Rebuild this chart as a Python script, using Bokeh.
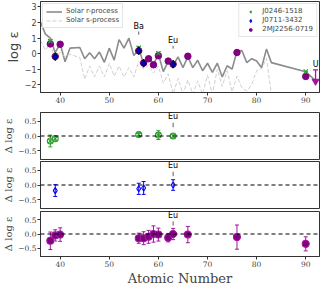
from bokeh.plotting import figure
from bokeh.layouts import column
from bokeh.models import (ColumnDataSource, Whisker, TeeHead, Span, Legend, LegendItem,
                          FixedTicker, Range1d)
from bokeh.embed import file_html
from bokeh.resources import INLINE
from bokeh.core.properties import value

NAN = float("nan")

# ---------------- data ----------------
r_z = [36, 37, 38, 39, 40, 41, 42, 44, 45, 46, 47, 48, 49, 50, 51, 52, 53, 54, 55, 56, 57, 58,
       59, 60, 61, 62, 63, 64, 65, 66, 67, 68, 69, 70, 71, 72, 73, 74, 75, 76, 77, 78, 79, 80,
       81, 82, 83, 90, 92]
r_val = [2.03, 1.25, 1.0, 0.06, 0.64, -0.52, 0.35, 0.39, -0.33, 0.06, -0.33, 0.1, -0.56, 0.35,
         -0.42, 0.9, 0.35, 0.99, -0.13, 0.29, -0.62, -0.23, -0.71, -0.04, -1.16, -0.49, -0.75,
         -0.21, -0.9, -0.2, -0.9, -0.43, -1.1, -0.62, -1.2, -0.62, -1.5, -0.78, -1.0, 0.16, 0.2,
         -0.58, -0.33, -0.48, -0.91, 0.29, -0.58, -1.16, -1.75]

s_z = [36, 37, 38, 39, 40, 41, 42, 44, 45, 46, 47, 48, 49, 50, 51, 52, 53, 54, 55, 56, 57, 58,
       59, 60, 61, 62, 63, 64, 65, 66, 67, 68, 69, 70, 71, 72, 73, 74, 75, 76, 77, 78, 79, 80,
       81, 82, 83]
s_val = [0.83, 0.22, 0.62, -0.4, 0.1, -0.2, -0.05, -0.25, -1.65, -0.8, -1.5, -0.8, -1.5, -0.62,
         -1.45, -0.8, -1.5, -0.9, -1.5, -0.5, -1.0, -0.75, -1.25, -0.8, -1.9, -1.3, -2.6, -1.6,
         -2.6, -1.7, -2.6, -1.75, -2.6, -1.4, -2.6, -1.0, -2.1, -1.1, -2.45, -1.45, -2.2, -2.4,
         -2.0, -1.1, -1.0, -0.3, -2.6]

# J0246-1518 (green)
g_z = [38, 39, 56, 60, 63, 90]
g_top = [0.80, -0.15, 0.38, 0.02, -0.68, -1.15]
g_top_err = [0.08, 0.06, 0.07, 0.08, 0.06, 0.0]
g_res_z = [38, 39, 56, 60, 63]
g_res = [-0.17, -0.09, 0.05, 0.03, 0.0]
g_res_err = [0.2, 0.09, 0.08, 0.15, 0.07]

# J0711-3432 (blue)
b_z = [39, 56, 57, 63]
b_top = [-0.2, 0.18, -0.62, -0.68]
b_top_err = [0.1, 0.1, 0.1, 0.1]
b_res_z = [39, 56, 57, 63]
b_res = [-0.19, -0.13, -0.10, 0.0]
b_res_err = [0.2, 0.19, 0.22, 0.18]

# 2MJ2256-0719 (purple)
p_z = [38, 39, 40, 56, 57, 58, 59, 60, 62, 63, 66, 76, 90]
p_top = [0.62, -0.18, 0.6, 0.18, -0.6, -0.33, -0.72, -0.14, -0.48, -0.68, -0.17, 0.07, -1.47]
p_top_err = [0.12, 0.1, 0.08, 0.08, 0.1, 0.1, 0.08, 0.1, 0.08, 0.08, 0.15, 0.08, 0.1]
p_res_z = [38, 39, 40, 56, 57, 58, 59, 60, 62, 63, 66, 76, 90]
p_res = [-0.24, -0.05, -0.02, -0.15, -0.15, -0.10, 0.0, -0.02, -0.13, 0.0, -0.02, -0.11, -0.35]
p_res_err = [0.31, 0.2, 0.24, 0.18, 0.23, 0.23, 0.29, 0.23, 0.15, 0.2, 0.29, 0.43, 0.25]

# U upper limit
u_z = [92]
u_val = [-1.78]
u_bar_top = [-1.05]

# labels
top_label_z = [56, 63]
top_label_txt = ["Ba", "Eu"]
top_label_y = [1.45, 0.55]
top_tick_lo = [1.22, 0.32]
top_tick_hi = [1.42, 0.5]
res_label_z = [63]
res_label_txt = ["Eu"]

x_ticks = [40, 50, 60, 70, 80, 90]
top_y_ticks = [-2, -1, 0, 1, 2, 3]
top_y_labels = ["\u22122", "\u22121", "0", "1", "2", "3"]
res_y_ticks = [-0.5, 0.0, 0.5]
res_y_labels = ["\u22120.5", "0.0", "0.5"]

GREEN = "#2ca02c"
BLUE = "#0000ff"
PURPLE = "#800080"
MAGENTA = "#a0179e"

SERIF = "DejaVu Serif"
SANS = "DejaVu Sans"

W = 320
LEFT = 36
xr = Range1d(36, 92.8)


def style(p, serif_y=True):
    p.xgrid.visible = False
    p.ygrid.visible = False
    p.outline_line_color = "#333333"
    p.outline_line_width = 1
    p.background_fill_color = "white"
    p.border_fill_color = "white"
    for ax in p.xaxis + p.yaxis:
        ax.axis_line_color = "#333333"
        ax.major_tick_out = 3
        ax.major_tick_in = 0
        ax.minor_tick_out = 0
        ax.minor_tick_in = 0
        ax.major_tick_line_color = "#333333"
        ax.major_label_text_font_size = "7.5px"
        ax.major_label_standoff = 1
        ax.axis_label_standoff = 1
    p.xaxis.ticker = FixedTicker(ticks=x_ticks)
    p.xaxis.major_label_text_font = SERIF
    p.yaxis.major_label_text_font = SERIF if serif_y else SANS


def whisk(p, xs, ys, errs, color, head=4, width=1.0):
    src = ColumnDataSource(dict(base=xs,
                                lower=[y - e for y, e in zip(ys, errs)],
                                upper=[y + e for y, e in zip(ys, errs)]))
    w = Whisker(source=src, base="base", lower="lower", upper="upper",
                line_color=color, line_width=width,
                upper_head=TeeHead(size=head, line_color=color, line_width=width),
                lower_head=TeeHead(size=head, line_color=color, line_width=width))
    p.add_layout(w)


# ---------------- top panel ----------------
p1 = figure(width=W, height=111, x_range=xr, y_range=Range1d(-2.5, 3.35),
            output_backend="svg", toolbar_location=None,
            min_border_left=LEFT, min_border_right=1, min_border_top=1, min_border_bottom=19)
style(p1, serif_y=False)
p1.yaxis.ticker = FixedTicker(ticks=top_y_ticks)
p1.yaxis.major_label_overrides = dict(zip(top_y_ticks, top_y_labels))
p1.yaxis.major_label_text_font_size = "8px"
p1.yaxis.axis_label = "log \u03b5"
p1.yaxis.axis_label_text_font = SANS
p1.yaxis.axis_label_text_font_style = "normal"
p1.yaxis.axis_label_text_font_size = "13px"

rl = p1.line(r_z, r_val, line_color="#8c8c8c", line_width=1.6)
sl = p1.line(s_z, s_val, line_color="#cfcfcf", line_width=1.0, line_dash="4 2")

whisk(p1, g_z, g_top, g_top_err, GREEN, head=4)
whisk(p1, p_z, p_top, p_top_err, MAGENTA, head=4)
whisk(p1, b_z, b_top, b_top_err, "black", head=3)

p1.scatter(p_z, p_top, marker="circle", size=6.5, fill_color=PURPLE, line_color=PURPLE)
p1.scatter(g_z, g_top, marker="x", size=6, line_color=GREEN, line_width=1.2)
p1.scatter(b_z, b_top, marker="diamond", size=8, fill_color="#0000cc", line_color="black",
           line_width=0.8)

# U upper limit
src_u = ColumnDataSource(dict(x=u_z, lo=u_val, hi=u_bar_top))
p1.segment(x0="x", y0="lo", x1="x", y1="hi", source=src_u, line_color=MAGENTA, line_width=1.3)
p1.scatter(x=u_z, y=u_bar_top, marker="dash", size=5, line_color=MAGENTA, line_width=1.3)
p1.scatter(x=u_z, y=u_val, marker="inverted_triangle", size=7, fill_color=MAGENTA,
           line_color=MAGENTA)
p1.text(x=u_z, y=u_bar_top, text=["U"], text_font=value(SANS), text_font_size=value("8px"),
        text_align="center", text_baseline="bottom", y_offset=-1, text_color="black")

# Ba / Eu labels
src_lab = ColumnDataSource(dict(x=top_label_z, y=top_label_y, t=top_label_txt,
                                lo=top_tick_lo, hi=top_tick_hi))
p1.text(x="x", y="y", text="t", source=src_lab, text_font=value(SANS),
        text_font_size=value("8px"), text_align="center", text_baseline="bottom")
p1.segment(x0="x", y0="lo", x1="x", y1="hi", source=src_lab, line_color="#333333",
           line_width=0.8)

# legend-only renderers (not drawn: NaN position)
lg_g = p1.scatter(x=[NAN], y=[NAN], marker="x", size=6, line_color=GREEN, line_width=1.2)
lg_b = p1.scatter(x=[NAN], y=[NAN], marker="diamond", size=8, fill_color=None,
                  line_color=BLUE, line_width=1.2)
lg_p = p1.scatter(x=[NAN], y=[NAN], marker="circle", size=7, fill_color=PURPLE,
                  line_color=PURPLE)

leg1 = Legend(items=[LegendItem(label="Solar r-process", renderers=[rl]),
                     LegendItem(label="Solar s-process", renderers=[sl])],
              location="top_left")
leg2 = Legend(items=[LegendItem(label="J0246-1518", renderers=[lg_g]),
                     LegendItem(label="J0711-3432", renderers=[lg_b]),
                     LegendItem(label="2MJ2256-0719", renderers=[lg_p])],
              location="top_right")
for lg in (leg1, leg2):
    lg.label_text_font = SANS
    lg.label_text_font_size = "7px"
    lg.label_height = 7
    lg.glyph_height = 7
    lg.glyph_width = 16
    lg.spacing = 1
    lg.padding = 3
    lg.margin = 2
    lg.label_standoff = 4
    lg.border_line_color = "#cccccc"
    lg.border_line_width = 1
    lg.background_fill_alpha = 0.9
    p1.add_layout(lg)


# ---------------- residual panels ----------------
def res_panel(height, top, bottom, xs, ys, errs, color, marker, fill, size, show_x=False):
    p = figure(width=W, height=height, x_range=xr, y_range=Range1d(-0.8, 0.8),
               output_backend="svg", toolbar_location=None,
               min_border_left=LEFT, min_border_right=1, min_border_top=top,
               min_border_bottom=bottom)
    style(p, serif_y=True)
    p.yaxis.ticker = FixedTicker(ticks=res_y_ticks)
    p.yaxis.major_label_overrides = dict(zip(res_y_ticks, res_y_labels))
    p.yaxis.axis_label = "\u0394 log \u03b5"
    p.yaxis.axis_label_text_font = SERIF
    p.yaxis.axis_label_text_font_style = "normal"
    p.yaxis.axis_label_text_font_size = "10px"
    if not show_x:
        p.xaxis.visible = False
    p.add_layout(Span(location=0, dimension="width", line_color="black", line_width=1.1,
                      line_dash="4 3"))
    whisk(p, xs, ys, errs, color, head=4)
    p.scatter(xs, ys, marker=marker, size=size, fill_color=fill, line_color=color,
              line_width=1.1)
    src = ColumnDataSource(dict(x=res_label_z, y=[0.5] * len(res_label_z), t=res_label_txt,
                                lo=[0.3] * len(res_label_z), hi=[0.45] * len(res_label_z)))
    p.text(x="x", y="y", text="t", source=src, text_font=value(SANS),
           text_font_size=value("8px"), text_align="center", text_baseline="bottom")
    p.segment(x0="x", y0="lo", x1="x", y1="hi", source=src, line_color="#333333",
              line_width=0.8)
    return p


p2 = res_panel(49, 1, 1, g_res_z, g_res, g_res_err, GREEN, "circle_x", None, 6)
p3 = res_panel(49, 1, 1, b_res_z, b_res, b_res_err, BLUE, "diamond", None, 6)
p4 = res_panel(79, 2, 30, p_res_z, p_res, p_res_err, MAGENTA, "circle", PURPLE, 7, show_x=True)
p4.xaxis.axis_label = "Atomic Number"
p4.xaxis.axis_label_text_font = SERIF
p4.xaxis.axis_label_text_font_style = "normal"
p4.xaxis.axis_label_text_font_size = "13px"

layout = column(p1, p2, p3, p4, spacing=0)
open("out.html", "w").write(file_html(layout, INLINE))
